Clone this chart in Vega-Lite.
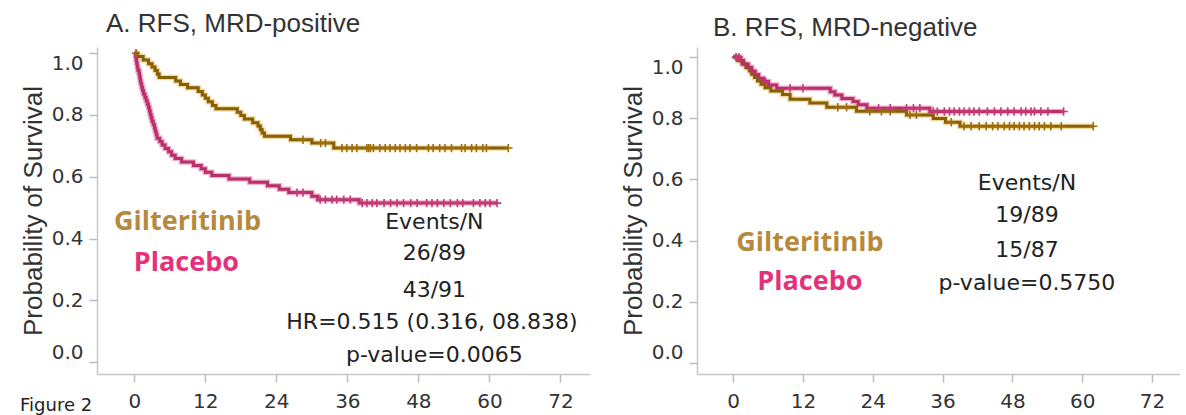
{
  "$schema": "https://vega.github.io/schema/vega-lite/v6.json",
  "background": "white",
  "padding": {"left": 20, "top": 11, "right": 0, "bottom": 0},
  "spacing": 30,
  "datasets": {
    "curves": [
      {"p":"A","k":"L","g":"Gilteritinib","t":0,"s":1},
      {"p":"A","k":"L","g":"Gilteritinib","t":0.5,"s":0.989},
      {"p":"A","k":"L","g":"Gilteritinib","t":1.5,"s":0.978},
      {"p":"A","k":"L","g":"Gilteritinib","t":2.4,"s":0.966},
      {"p":"A","k":"L","g":"Gilteritinib","t":3.0,"s":0.955},
      {"p":"A","k":"L","g":"Gilteritinib","t":3.5,"s":0.944},
      {"p":"A","k":"L","g":"Gilteritinib","t":3.9,"s":0.933},
      {"p":"A","k":"L","g":"Gilteritinib","t":4.2,"s":0.921},
      {"p":"A","k":"L","g":"Gilteritinib","t":7.0,"s":0.910},
      {"p":"A","k":"L","g":"Gilteritinib","t":7.8,"s":0.899},
      {"p":"A","k":"L","g":"Gilteritinib","t":9.0,"s":0.888},
      {"p":"A","k":"L","g":"Gilteritinib","t":10.8,"s":0.876},
      {"p":"A","k":"L","g":"Gilteritinib","t":11.5,"s":0.865},
      {"p":"A","k":"L","g":"Gilteritinib","t":12.0,"s":0.854},
      {"p":"A","k":"L","g":"Gilteritinib","t":12.5,"s":0.843},
      {"p":"A","k":"L","g":"Gilteritinib","t":13.2,"s":0.831},
      {"p":"A","k":"L","g":"Gilteritinib","t":13.8,"s":0.820},
      {"p":"A","k":"L","g":"Gilteritinib","t":17.4,"s":0.809},
      {"p":"A","k":"L","g":"Gilteritinib","t":18.0,"s":0.798},
      {"p":"A","k":"L","g":"Gilteritinib","t":18.6,"s":0.787},
      {"p":"A","k":"L","g":"Gilteritinib","t":20.0,"s":0.775},
      {"p":"A","k":"L","g":"Gilteritinib","t":20.9,"s":0.764},
      {"p":"A","k":"L","g":"Gilteritinib","t":21.3,"s":0.753},
      {"p":"A","k":"L","g":"Gilteritinib","t":21.6,"s":0.742},
      {"p":"A","k":"L","g":"Gilteritinib","t":22.0,"s":0.731},
      {"p":"A","k":"L","g":"Gilteritinib","t":26.4,"s":0.720},
      {"p":"A","k":"L","g":"Gilteritinib","t":30.0,"s":0.709},
      {"p":"A","k":"L","g":"Gilteritinib","t":33.7,"s":0.693},
      {"p":"A","k":"L","g":"Gilteritinib","t":63.2,"s":0.693},
      {"p":"A","k":"L","g":"Placebo","t":0,"s":1},
      {"p":"A","k":"L","g":"Placebo","t":0.2,"s":0.989},
      {"p":"A","k":"L","g":"Placebo","t":0.3,"s":0.978},
      {"p":"A","k":"L","g":"Placebo","t":0.4,"s":0.967},
      {"p":"A","k":"L","g":"Placebo","t":0.5,"s":0.956},
      {"p":"A","k":"L","g":"Placebo","t":0.6,"s":0.945},
      {"p":"A","k":"L","g":"Placebo","t":0.8,"s":0.934},
      {"p":"A","k":"L","g":"Placebo","t":0.9,"s":0.923},
      {"p":"A","k":"L","g":"Placebo","t":1.0,"s":0.912},
      {"p":"A","k":"L","g":"Placebo","t":1.1,"s":0.901},
      {"p":"A","k":"L","g":"Placebo","t":1.25,"s":0.890},
      {"p":"A","k":"L","g":"Placebo","t":1.4,"s":0.879},
      {"p":"A","k":"L","g":"Placebo","t":1.55,"s":0.868},
      {"p":"A","k":"L","g":"Placebo","t":1.8,"s":0.857},
      {"p":"A","k":"L","g":"Placebo","t":2.0,"s":0.846},
      {"p":"A","k":"L","g":"Placebo","t":2.2,"s":0.835},
      {"p":"A","k":"L","g":"Placebo","t":2.4,"s":0.824},
      {"p":"A","k":"L","g":"Placebo","t":2.55,"s":0.813},
      {"p":"A","k":"L","g":"Placebo","t":2.7,"s":0.802},
      {"p":"A","k":"L","g":"Placebo","t":2.85,"s":0.791},
      {"p":"A","k":"L","g":"Placebo","t":3.0,"s":0.780},
      {"p":"A","k":"L","g":"Placebo","t":3.2,"s":0.769},
      {"p":"A","k":"L","g":"Placebo","t":3.4,"s":0.758},
      {"p":"A","k":"L","g":"Placebo","t":3.55,"s":0.747},
      {"p":"A","k":"L","g":"Placebo","t":3.7,"s":0.736},
      {"p":"A","k":"L","g":"Placebo","t":3.85,"s":0.725},
      {"p":"A","k":"L","g":"Placebo","t":4.3,"s":0.714},
      {"p":"A","k":"L","g":"Placebo","t":4.7,"s":0.703},
      {"p":"A","k":"L","g":"Placebo","t":5.2,"s":0.692},
      {"p":"A","k":"L","g":"Placebo","t":5.8,"s":0.681},
      {"p":"A","k":"L","g":"Placebo","t":6.3,"s":0.670},
      {"p":"A","k":"L","g":"Placebo","t":6.9,"s":0.659},
      {"p":"A","k":"L","g":"Placebo","t":8.0,"s":0.648},
      {"p":"A","k":"L","g":"Placebo","t":10.0,"s":0.637},
      {"p":"A","k":"L","g":"Placebo","t":11.3,"s":0.626},
      {"p":"A","k":"L","g":"Placebo","t":12.0,"s":0.615},
      {"p":"A","k":"L","g":"Placebo","t":13.1,"s":0.604},
      {"p":"A","k":"L","g":"Placebo","t":16.0,"s":0.593},
      {"p":"A","k":"L","g":"Placebo","t":19.5,"s":0.582},
      {"p":"A","k":"L","g":"Placebo","t":22.5,"s":0.571},
      {"p":"A","k":"L","g":"Placebo","t":24.5,"s":0.560},
      {"p":"A","k":"L","g":"Placebo","t":26.1,"s":0.549},
      {"p":"A","k":"L","g":"Placebo","t":30.0,"s":0.537},
      {"p":"A","k":"L","g":"Placebo","t":31.0,"s":0.526},
      {"p":"A","k":"L","g":"Placebo","t":38.0,"s":0.515},
      {"p":"A","k":"L","g":"Placebo","t":61.3,"s":0.515},
      {"p":"A","k":"C","g":"Gilteritinib","t":0.3,"s":1},
      {"p":"A","k":"C","g":"Gilteritinib","t":28.5,"s":0.720},
      {"p":"A","k":"C","g":"Gilteritinib","t":31.5,"s":0.709},
      {"p":"A","k":"C","g":"Gilteritinib","t":32.3,"s":0.709},
      {"p":"A","k":"C","g":"Gilteritinib","t":35.1,"s":0.693},
      {"p":"A","k":"C","g":"Gilteritinib","t":35.9,"s":0.693},
      {"p":"A","k":"C","g":"Gilteritinib","t":36.8,"s":0.693},
      {"p":"A","k":"C","g":"Gilteritinib","t":37.6,"s":0.693},
      {"p":"A","k":"C","g":"Gilteritinib","t":39.3,"s":0.693},
      {"p":"A","k":"C","g":"Gilteritinib","t":39.6,"s":0.693},
      {"p":"A","k":"C","g":"Gilteritinib","t":39.9,"s":0.693},
      {"p":"A","k":"C","g":"Gilteritinib","t":40.4,"s":0.693},
      {"p":"A","k":"C","g":"Gilteritinib","t":41.5,"s":0.693},
      {"p":"A","k":"C","g":"Gilteritinib","t":42.4,"s":0.693},
      {"p":"A","k":"C","g":"Gilteritinib","t":43.2,"s":0.693},
      {"p":"A","k":"C","g":"Gilteritinib","t":44.1,"s":0.693},
      {"p":"A","k":"C","g":"Gilteritinib","t":44.9,"s":0.693},
      {"p":"A","k":"C","g":"Gilteritinib","t":45.8,"s":0.693},
      {"p":"A","k":"C","g":"Gilteritinib","t":46.6,"s":0.693},
      {"p":"A","k":"C","g":"Gilteritinib","t":47.7,"s":0.693},
      {"p":"A","k":"C","g":"Gilteritinib","t":49.7,"s":0.693},
      {"p":"A","k":"C","g":"Gilteritinib","t":50.5,"s":0.693},
      {"p":"A","k":"C","g":"Gilteritinib","t":51.6,"s":0.693},
      {"p":"A","k":"C","g":"Gilteritinib","t":52.5,"s":0.693},
      {"p":"A","k":"C","g":"Gilteritinib","t":53.6,"s":0.693},
      {"p":"A","k":"C","g":"Gilteritinib","t":55.3,"s":0.693},
      {"p":"A","k":"C","g":"Gilteritinib","t":55.9,"s":0.693},
      {"p":"A","k":"C","g":"Gilteritinib","t":57.0,"s":0.693},
      {"p":"A","k":"C","g":"Gilteritinib","t":57.8,"s":0.693},
      {"p":"A","k":"C","g":"Gilteritinib","t":58.9,"s":0.693},
      {"p":"A","k":"C","g":"Gilteritinib","t":59.5,"s":0.693},
      {"p":"A","k":"C","g":"Gilteritinib","t":63.2,"s":0.693},
      {"p":"A","k":"C","g":"Placebo","t":27.5,"s":0.549},
      {"p":"A","k":"C","g":"Placebo","t":28.5,"s":0.549},
      {"p":"A","k":"C","g":"Placebo","t":31.4,"s":0.526},
      {"p":"A","k":"C","g":"Placebo","t":32.3,"s":0.526},
      {"p":"A","k":"C","g":"Placebo","t":33.4,"s":0.526},
      {"p":"A","k":"C","g":"Placebo","t":34.2,"s":0.526},
      {"p":"A","k":"C","g":"Placebo","t":35.4,"s":0.526},
      {"p":"A","k":"C","g":"Placebo","t":36.5,"s":0.526},
      {"p":"A","k":"C","g":"Placebo","t":38.5,"s":0.515},
      {"p":"A","k":"C","g":"Placebo","t":39.3,"s":0.515},
      {"p":"A","k":"C","g":"Placebo","t":40.2,"s":0.515},
      {"p":"A","k":"C","g":"Placebo","t":41.0,"s":0.515},
      {"p":"A","k":"C","g":"Placebo","t":42.2,"s":0.515},
      {"p":"A","k":"C","g":"Placebo","t":43.3,"s":0.515},
      {"p":"A","k":"C","g":"Placebo","t":44.4,"s":0.515},
      {"p":"A","k":"C","g":"Placebo","t":45.5,"s":0.515},
      {"p":"A","k":"C","g":"Placebo","t":46.7,"s":0.515},
      {"p":"A","k":"C","g":"Placebo","t":47.8,"s":0.515},
      {"p":"A","k":"C","g":"Placebo","t":49.4,"s":0.515},
      {"p":"A","k":"C","g":"Placebo","t":50.3,"s":0.515},
      {"p":"A","k":"C","g":"Placebo","t":51.2,"s":0.515},
      {"p":"A","k":"C","g":"Placebo","t":52.3,"s":0.515},
      {"p":"A","k":"C","g":"Placebo","t":53.4,"s":0.515},
      {"p":"A","k":"C","g":"Placebo","t":54.6,"s":0.515},
      {"p":"A","k":"C","g":"Placebo","t":55.5,"s":0.515},
      {"p":"A","k":"C","g":"Placebo","t":57.3,"s":0.515},
      {"p":"A","k":"C","g":"Placebo","t":58.4,"s":0.515},
      {"p":"A","k":"C","g":"Placebo","t":59.3,"s":0.515},
      {"p":"A","k":"C","g":"Placebo","t":60.1,"s":0.515},
      {"p":"A","k":"C","g":"Placebo","t":61.3,"s":0.515},
      {"p":"B","k":"L","g":"Gilteritinib","t":0,"s":1},
      {"p":"B","k":"L","g":"Gilteritinib","t":0.8,"s":0.989},
      {"p":"B","k":"L","g":"Gilteritinib","t":1.5,"s":0.978},
      {"p":"B","k":"L","g":"Gilteritinib","t":2.2,"s":0.966},
      {"p":"B","k":"L","g":"Gilteritinib","t":2.8,"s":0.955},
      {"p":"B","k":"L","g":"Gilteritinib","t":3.2,"s":0.944},
      {"p":"B","k":"L","g":"Gilteritinib","t":3.7,"s":0.933},
      {"p":"B","k":"L","g":"Gilteritinib","t":4.2,"s":0.922},
      {"p":"B","k":"L","g":"Gilteritinib","t":4.8,"s":0.911},
      {"p":"B","k":"L","g":"Gilteritinib","t":5.5,"s":0.900},
      {"p":"B","k":"L","g":"Gilteritinib","t":6.5,"s":0.889},
      {"p":"B","k":"L","g":"Gilteritinib","t":8.5,"s":0.878},
      {"p":"B","k":"L","g":"Gilteritinib","t":9.8,"s":0.862},
      {"p":"B","k":"L","g":"Gilteritinib","t":13.2,"s":0.850},
      {"p":"B","k":"L","g":"Gilteritinib","t":16.1,"s":0.836},
      {"p":"B","k":"L","g":"Gilteritinib","t":21.2,"s":0.823},
      {"p":"B","k":"L","g":"Gilteritinib","t":29.8,"s":0.811},
      {"p":"B","k":"L","g":"Gilteritinib","t":34.4,"s":0.799},
      {"p":"B","k":"L","g":"Gilteritinib","t":36.5,"s":0.787},
      {"p":"B","k":"L","g":"Gilteritinib","t":39.0,"s":0.774},
      {"p":"B","k":"L","g":"Gilteritinib","t":61.9,"s":0.774},
      {"p":"B","k":"L","g":"Placebo","t":0,"s":1},
      {"p":"B","k":"L","g":"Placebo","t":1.2,"s":0.989},
      {"p":"B","k":"L","g":"Placebo","t":1.8,"s":0.977},
      {"p":"B","k":"L","g":"Placebo","t":2.6,"s":0.966},
      {"p":"B","k":"L","g":"Placebo","t":3.2,"s":0.954},
      {"p":"B","k":"L","g":"Placebo","t":3.8,"s":0.943},
      {"p":"B","k":"L","g":"Placebo","t":4.4,"s":0.931},
      {"p":"B","k":"L","g":"Placebo","t":5.2,"s":0.920},
      {"p":"B","k":"L","g":"Placebo","t":6.1,"s":0.909},
      {"p":"B","k":"L","g":"Placebo","t":7.5,"s":0.898},
      {"p":"B","k":"L","g":"Placebo","t":16.7,"s":0.887},
      {"p":"B","k":"L","g":"Placebo","t":17.5,"s":0.876},
      {"p":"B","k":"L","g":"Placebo","t":18.7,"s":0.865},
      {"p":"B","k":"L","g":"Placebo","t":20.6,"s":0.855},
      {"p":"B","k":"L","g":"Placebo","t":21.5,"s":0.844},
      {"p":"B","k":"L","g":"Placebo","t":23.0,"s":0.833},
      {"p":"B","k":"L","g":"Placebo","t":33.8,"s":0.822},
      {"p":"B","k":"L","g":"Placebo","t":56.8,"s":0.822},
      {"p":"B","k":"C","g":"Gilteritinib","t":18.0,"s":0.836},
      {"p":"B","k":"C","g":"Gilteritinib","t":19.5,"s":0.836},
      {"p":"B","k":"C","g":"Gilteritinib","t":23.5,"s":0.823},
      {"p":"B","k":"C","g":"Gilteritinib","t":25.5,"s":0.823},
      {"p":"B","k":"C","g":"Gilteritinib","t":27.0,"s":0.823},
      {"p":"B","k":"C","g":"Gilteritinib","t":30.4,"s":0.811},
      {"p":"B","k":"C","g":"Gilteritinib","t":31.5,"s":0.811},
      {"p":"B","k":"C","g":"Gilteritinib","t":37.5,"s":0.787},
      {"p":"B","k":"C","g":"Gilteritinib","t":39.7,"s":0.774},
      {"p":"B","k":"C","g":"Gilteritinib","t":40.9,"s":0.774},
      {"p":"B","k":"C","g":"Gilteritinib","t":42.3,"s":0.774},
      {"p":"B","k":"C","g":"Gilteritinib","t":43.5,"s":0.774},
      {"p":"B","k":"C","g":"Gilteritinib","t":44.6,"s":0.774},
      {"p":"B","k":"C","g":"Gilteritinib","t":45.5,"s":0.774},
      {"p":"B","k":"C","g":"Gilteritinib","t":46.6,"s":0.774},
      {"p":"B","k":"C","g":"Gilteritinib","t":47.5,"s":0.774},
      {"p":"B","k":"C","g":"Gilteritinib","t":48.3,"s":0.774},
      {"p":"B","k":"C","g":"Gilteritinib","t":49.2,"s":0.774},
      {"p":"B","k":"C","g":"Gilteritinib","t":50.0,"s":0.774},
      {"p":"B","k":"C","g":"Gilteritinib","t":50.9,"s":0.774},
      {"p":"B","k":"C","g":"Gilteritinib","t":51.8,"s":0.774},
      {"p":"B","k":"C","g":"Gilteritinib","t":52.6,"s":0.774},
      {"p":"B","k":"C","g":"Gilteritinib","t":53.5,"s":0.774},
      {"p":"B","k":"C","g":"Gilteritinib","t":54.6,"s":0.774},
      {"p":"B","k":"C","g":"Gilteritinib","t":56.4,"s":0.774},
      {"p":"B","k":"C","g":"Gilteritinib","t":61.9,"s":0.774},
      {"p":"B","k":"C","g":"Placebo","t":0.5,"s":1},
      {"p":"B","k":"C","g":"Placebo","t":1.0,"s":1},
      {"p":"B","k":"C","g":"Placebo","t":5.6,"s":0.920},
      {"p":"B","k":"C","g":"Placebo","t":9.8,"s":0.898},
      {"p":"B","k":"C","g":"Placebo","t":12.0,"s":0.898},
      {"p":"B","k":"C","g":"Placebo","t":25.0,"s":0.833},
      {"p":"B","k":"C","g":"Placebo","t":27.0,"s":0.833},
      {"p":"B","k":"C","g":"Placebo","t":29.8,"s":0.833},
      {"p":"B","k":"C","g":"Placebo","t":31.0,"s":0.833},
      {"p":"B","k":"C","g":"Placebo","t":32.1,"s":0.833},
      {"p":"B","k":"C","g":"Placebo","t":34.4,"s":0.822},
      {"p":"B","k":"C","g":"Placebo","t":35.1,"s":0.822},
      {"p":"B","k":"C","g":"Placebo","t":36.3,"s":0.822},
      {"p":"B","k":"C","g":"Placebo","t":37.2,"s":0.822},
      {"p":"B","k":"C","g":"Placebo","t":38.0,"s":0.822},
      {"p":"B","k":"C","g":"Placebo","t":38.9,"s":0.822},
      {"p":"B","k":"C","g":"Placebo","t":39.7,"s":0.822},
      {"p":"B","k":"C","g":"Placebo","t":40.6,"s":0.822},
      {"p":"B","k":"C","g":"Placebo","t":41.4,"s":0.822},
      {"p":"B","k":"C","g":"Placebo","t":42.3,"s":0.822},
      {"p":"B","k":"C","g":"Placebo","t":43.7,"s":0.822},
      {"p":"B","k":"C","g":"Placebo","t":44.9,"s":0.822},
      {"p":"B","k":"C","g":"Placebo","t":46.0,"s":0.822},
      {"p":"B","k":"C","g":"Placebo","t":47.2,"s":0.822},
      {"p":"B","k":"C","g":"Placebo","t":48.3,"s":0.822},
      {"p":"B","k":"C","g":"Placebo","t":49.5,"s":0.822},
      {"p":"B","k":"C","g":"Placebo","t":50.3,"s":0.822},
      {"p":"B","k":"C","g":"Placebo","t":51.2,"s":0.822},
      {"p":"B","k":"C","g":"Placebo","t":51.8,"s":0.822},
      {"p":"B","k":"C","g":"Placebo","t":52.9,"s":0.822},
      {"p":"B","k":"C","g":"Placebo","t":54.1,"s":0.822},
      {"p":"B","k":"C","g":"Placebo","t":56.8,"s":0.822}
    ],
    "notes": [
      {"p":"A","k":"grp","g":"Gilteritinib","label":"Gilteritinib","t":9.0,"s":0.454},
      {"p":"A","k":"grp","g":"Placebo","label":"Placebo","t":8.8,"s":0.321},
      {"p":"A","k":"stat","label":"Events/N","t":50.7,"s":0.454},
      {"p":"A","k":"stat","label":"26/89","t":50.7,"s":0.354},
      {"p":"A","k":"stat","label":"43/91","t":50.7,"s":0.234},
      {"p":"A","k":"stat","label":"HR=0.515 (0.316, 08.838)","t":50.3,"s":0.130},
      {"p":"A","k":"stat","label":"p-value=0.0065","t":50.7,"s":0.024},
      {"p":"A","k":"fig","label":"Figure 2","t":-19.3,"s":-0.143},
      {"p":"B","k":"grp","g":"Gilteritinib","label":"Gilteritinib","t":13.2,"s":0.393},
      {"p":"B","k":"grp","g":"Placebo","label":"Placebo","t":13.2,"s":0.266},
      {"p":"B","k":"stat","label":"Events/N","t":50.5,"s":0.589},
      {"p":"B","k":"stat","label":"19/89","t":50.5,"s":0.484},
      {"p":"B","k":"stat","label":"15/87","t":50.5,"s":0.370},
      {"p":"B","k":"stat","label":"p-value=0.5750","t":50.5,"s":0.262}
    ]
  },
  "hconcat": [
    {
      "width": 493,
      "height": 327,
      "title": {"text": "A. RFS, MRD-positive", "anchor": "start", "frame": "group", "dx": 9, "offset": 5},
      "encoding": {
        "x": {"field": "t", "type": "quantitative", "scale": {"domain": [-6.3, 77.0], "nice": false, "zero": false}, "axis": {"values": [0, 12, 24, 36, 48, 60, 72], "title": null}},
        "y": {"field": "s", "type": "quantitative", "scale": {"domain": [-0.038, 1.02], "nice": false, "zero": false}, "axis": {"values": [0, 0.2, 0.4, 0.6, 0.8, 1], "format": ".1f", "title": "Probability of Survival", "labelFlush": 15}}
      },
      "layer": [
        {
          "data": {"name": "curves"},
          "transform": [{"filter": "datum.p == 'A' && datum.k == 'L'"}],
          "mark": {"type": "line", "interpolate": "step-after", "strokeWidth": 5.5, "opacity": 0.5},
          "encoding": {"detail": {"field": "g"}, "color": {"condition": {"test": "datum.g == 'Placebo'", "value": "#e0609a"}, "value": "#e8ad3c"}}
        },
        {
          "data": {"name": "curves"},
          "transform": [{"filter": "datum.p == 'A' && datum.k == 'L'"}],
          "mark": {"type": "line", "interpolate": "step-after", "strokeWidth": 3},
          "encoding": {"detail": {"field": "g"}, "color": {"condition": {"test": "datum.g == 'Placebo'", "value": "#b8306a"}, "value": "#866004"}}
        },
        {
          "data": {"name": "curves"},
          "transform": [{"filter": "datum.p == 'A' && datum.k == 'C'"}],
          "mark": {"type": "point", "shape": "M-1,0L1,0M0,-1L0,1", "filled": false, "strokeWidth": 1.6, "size": 70, "opacity": 1},
          "encoding": {"color": {"condition": {"test": "datum.g == 'Placebo'", "value": "#c23a74"}, "value": "#9a6d0a"}}
        },
        {
          "data": {"name": "notes"},
          "transform": [{"filter": "datum.p == 'A' && datum.k == 'grp'"}],
          "mark": {"type": "text", "font": "Open Sans", "fontWeight": "bold", "fontSize": 27, "baseline": "middle", "align": "center"},
          "encoding": {"text": {"field": "label"}, "color": {"condition": {"test": "datum.g == 'Placebo'", "value": "#e5307a"}, "value": "#b68a3e"}}
        },
        {
          "data": {"name": "notes"},
          "transform": [{"filter": "datum.p == 'A' && datum.k == 'stat'"}],
          "mark": {"type": "text", "font": "DejaVu Sans", "fontSize": 22, "baseline": "middle", "align": "center", "color": "#222222"},
          "encoding": {"text": {"field": "label"}}
        },
        {
          "data": {"name": "notes"},
          "transform": [{"filter": "datum.p == 'A' && datum.k == 'fig'"}],
          "mark": {"type": "text", "font": "DejaVu Sans", "fontSize": 18, "baseline": "middle", "align": "left", "color": "#222222"},
          "encoding": {"text": {"field": "label"}}
        }
      ]
    },
    {
      "width": 483,
      "height": 327,
      "title": {"text": "B. RFS, MRD-negative", "anchor": "start", "frame": "group", "dx": 16, "offset": 5},
      "encoding": {
        "x": {"field": "t", "type": "quantitative", "scale": {"domain": [-6.2, 76.8], "nice": false, "zero": false}, "axis": {"values": [0, 12, 24, 36, 48, 60, 72], "title": null}},
        "y": {"field": "s", "type": "quantitative", "scale": {"domain": [-0.036, 1.033], "nice": false, "zero": false}, "axis": {"values": [0, 0.2, 0.4, 0.6, 0.8, 1], "format": ".1f", "title": "Probability of Survival", "labelFlush": 15}}
      },
      "layer": [
        {
          "data": {"name": "curves"},
          "transform": [{"filter": "datum.p == 'B' && datum.k == 'L'"}],
          "mark": {"type": "line", "interpolate": "step-after", "strokeWidth": 5.5, "opacity": 0.5},
          "encoding": {"detail": {"field": "g"}, "color": {"condition": {"test": "datum.g == 'Placebo'", "value": "#e0609a"}, "value": "#e8ad3c"}}
        },
        {
          "data": {"name": "curves"},
          "transform": [{"filter": "datum.p == 'B' && datum.k == 'L'"}],
          "mark": {"type": "line", "interpolate": "step-after", "strokeWidth": 3},
          "encoding": {"detail": {"field": "g"}, "color": {"condition": {"test": "datum.g == 'Placebo'", "value": "#b8306a"}, "value": "#866004"}}
        },
        {
          "data": {"name": "curves"},
          "transform": [{"filter": "datum.p == 'B' && datum.k == 'C'"}],
          "mark": {"type": "point", "shape": "M-1,0L1,0M0,-1L0,1", "filled": false, "strokeWidth": 1.6, "size": 70, "opacity": 1},
          "encoding": {"color": {"condition": {"test": "datum.g == 'Placebo'", "value": "#c23a74"}, "value": "#9a6d0a"}}
        },
        {
          "data": {"name": "notes"},
          "transform": [{"filter": "datum.p == 'B' && datum.k == 'grp'"}],
          "mark": {"type": "text", "font": "Open Sans", "fontWeight": "bold", "fontSize": 27, "baseline": "middle", "align": "center"},
          "encoding": {"text": {"field": "label"}, "color": {"condition": {"test": "datum.g == 'Placebo'", "value": "#e5307a"}, "value": "#b68a3e"}}
        },
        {
          "data": {"name": "notes"},
          "transform": [{"filter": "datum.p == 'B' && datum.k == 'stat'"}],
          "mark": {"type": "text", "font": "DejaVu Sans", "fontSize": 22, "baseline": "middle", "align": "center", "color": "#222222"},
          "encoding": {"text": {"field": "label"}}
        }
      ]
    }
  ],
  "config": {
    "view": {"stroke": null},
    "title": {"font": "Liberation Sans", "fontSize": 26, "fontWeight": "normal", "color": "#333333"},
    "axis": {
      "grid": false,
      "domainColor": "#c8c8c8",
      "domainWidth": 1.5,
      "tickColor": "#b8bcc8",
      "tickWidth": 1.5,
      "tickSize": 8,
      "labelFont": "DejaVu Sans",
      "labelFontSize": 20,
      "labelColor": "#333333",
      "titleFont": "Liberation Sans",
      "titleFontSize": 26,
      "titleFontWeight": "normal",
      "titleColor": "#333333"
    },
    "axisX": {"labelPadding": 9},
    "axisY": {"labelPadding": 6, "titlePadding": 4, "minExtent": 47, "maxExtent": 47}
  }
}
